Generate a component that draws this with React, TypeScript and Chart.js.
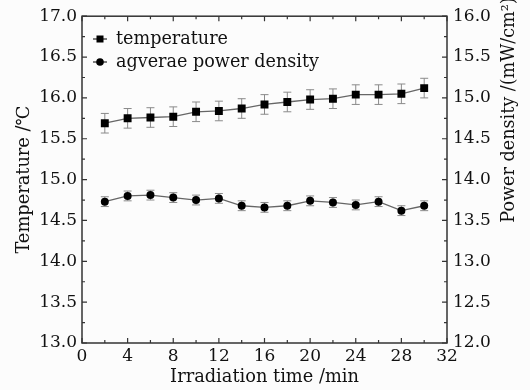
import React, { useEffect, useRef } from "react";
import { Chart, registerables } from "chart.js";

Chart.register(...registerables);

const timeMin = [2, 4, 6, 8, 10, 12, 14, 16, 18, 20, 22, 24, 26, 28, 30];
const temperature = [15.69, 15.75, 15.76, 15.77, 15.83, 15.84, 15.87, 15.92, 15.95, 15.98, 15.99, 16.04, 16.04, 16.05, 16.12];
const temperatureErr = [0.12, 0.12, 0.12, 0.12, 0.12, 0.12, 0.12, 0.12, 0.12, 0.12, 0.12, 0.12, 0.12, 0.12, 0.12];
const powerDensity = [13.73, 13.8, 13.81, 13.78, 13.75, 13.77, 13.68, 13.66, 13.68, 13.74, 13.72, 13.69, 13.73, 13.62, 13.68];
const powerErr = [0.06, 0.06, 0.06, 0.06, 0.06, 0.06, 0.06, 0.06, 0.06, 0.06, 0.06, 0.06, 0.06, 0.06, 0.06];

const legendLabels = ["temperature", "agverae power density"];
const xTitle = "Irradiation time /min";
const yTitle = "Temperature /\u2103";
const y1Title = "Power density /(mW/cm\u00B2)";

const FONT = "'DejaVu Serif', serif";
const TEXT = "#111111";
const AXIS = "#333333";

const errors = [temperatureErr, powerErr];

const framePlugin = {
  id: "frame",
  beforeDraw(chart: any) {
    const ctx = chart.ctx;
    ctx.save();
    ctx.fillStyle = "#fcfcfc";
    ctx.fillRect(0, 0, chart.width, chart.height);
    ctx.restore();
  },
  beforeDatasetsDraw(chart: any) {
    const ctx = chart.ctx;
    ctx.save();
    ctx.strokeStyle = "#8a8a8a";
    ctx.lineWidth = 1;
    chart.data.datasets.forEach((ds: any, i: number) => {
      const ys = chart.scales[ds.yAxisID];
      const xs = chart.scales.x;
      ds.data.forEach((p: any, j: number) => {
        const e = errors[i][j];
        const x = xs.getPixelForValue(p.x);
        const y0 = ys.getPixelForValue(p.y - e);
        const y1 = ys.getPixelForValue(p.y + e);
        ctx.beginPath();
        ctx.moveTo(x, y0);
        ctx.lineTo(x, y1);
        ctx.moveTo(x - 4, y0);
        ctx.lineTo(x + 4, y0);
        ctx.moveTo(x - 4, y1);
        ctx.lineTo(x + 4, y1);
        ctx.stroke();
      });
    });
    ctx.restore();
  },
  afterDraw(chart: any) {
    const ctx = chart.ctx;
    const { left, right, top, bottom } = chart.chartArea;
    const xs = chart.scales.x;
    const ys = chart.scales.y;
    const y1s = chart.scales.y1;
    ctx.save();
    ctx.strokeStyle = AXIS;
    ctx.lineWidth = 1.5;
    ctx.strokeRect(left, top, right - left, bottom - top);
    ctx.lineWidth = 1.2;
    ctx.beginPath();
    for (let v = 0; v <= 32; v += 2) {
      const x = xs.getPixelForValue(v);
      const len = v % 4 === 0 ? 5 : 3;
      ctx.moveTo(x, bottom);
      ctx.lineTo(x, bottom - len);
      ctx.moveTo(x, top);
      ctx.lineTo(x, top + len);
    }
    for (let k = 0; k <= 16; k++) {
      const len = k % 2 === 0 ? 5 : 3;
      const ya = ys.getPixelForValue(13 + k * 0.25);
      ctx.moveTo(left, ya);
      ctx.lineTo(left + len, ya);
      const yb = y1s.getPixelForValue(12 + k * 0.25);
      ctx.moveTo(right, yb);
      ctx.lineTo(right - len, yb);
    }
    ctx.stroke();

    // legend
    const rows = [39, 62];
    ctx.font = `17.6px ${FONT}`;
    ctx.textBaseline = "middle";
    ctx.textAlign = "left";
    rows.forEach((ry, i) => {
      ctx.strokeStyle = "#555";
      ctx.lineWidth = 1.5;
      ctx.beginPath();
      ctx.moveTo(93, ry);
      ctx.lineTo(107, ry);
      ctx.stroke();
      ctx.fillStyle = "#000";
      if (i === 0) {
        ctx.fillRect(96.5, ry - 3.5, 7, 7);
      } else {
        ctx.beginPath();
        ctx.arc(100, ry, 3.8, 0, Math.PI * 2);
        ctx.fill();
      }
      ctx.fillStyle = TEXT;
      ctx.fillText(legendLabels[i], 116, ry);
    });

    // right axis title, reading bottom to top
    ctx.translate(509, 110);
    ctx.rotate(-Math.PI / 2);
    ctx.textAlign = "center";
    ctx.textBaseline = "middle";
    ctx.fillStyle = TEXT;
    ctx.font = `17.6px ${FONT}`;
    ctx.fillText(y1Title, 0, 0);
    ctx.restore();
  },
};

export default function App() {
  const ref = useRef<HTMLCanvasElement>(null);
  useEffect(() => {
    if (!ref.current) return;
    const tickFont = { family: FONT, size: 17 };
    const titleFont = { family: FONT, size: 17.8 };
    const chart = new Chart(ref.current, {
      type: "line",
      data: {
        datasets: [
          {
            label: legendLabels[0],
            data: timeMin.map((t, i) => ({ x: t, y: temperature[i] })),
            yAxisID: "y",
            borderColor: "#666",
            borderWidth: 1.3,
            pointStyle: "rect",
            pointRadius: 5.6,
            pointBackgroundColor: "#000",
            pointBorderColor: "#000",
            pointBorderWidth: 0,
          },
          {
            label: legendLabels[1],
            data: timeMin.map((t, i) => ({ x: t, y: powerDensity[i] })),
            yAxisID: "y1",
            borderColor: "#666",
            borderWidth: 1.3,
            pointStyle: "circle",
            pointRadius: 4,
            pointBackgroundColor: "#000",
            pointBorderColor: "#000",
            pointBorderWidth: 0,
          },
        ],
      },
      options: {
        responsive: false,
        animation: false,
        devicePixelRatio: 1,
        layout: { padding: { top: 16, left: 0, right: 0, bottom: 0 } },
        plugins: { legend: { display: false }, tooltip: { enabled: false } },
        scales: {
          x: {
            type: "linear",
            min: 0,
            max: 32,
            grid: { display: false, drawTicks: false },
            border: { display: false },
            ticks: { stepSize: 4, font: tickFont, color: TEXT, padding: 3, maxRotation: 0 },
            title: { display: true, text: xTitle, font: titleFont, color: TEXT, padding: { top: 0, bottom: 2 } },
            afterFit: (s: any) => { s.height = 47; },
          },
          y: {
            type: "linear",
            position: "left",
            min: 13,
            max: 17,
            grid: { display: false, drawTicks: false },
            border: { display: false },
            ticks: { stepSize: 0.5, font: tickFont, color: TEXT, padding: 5, callback: (v: any) => Number(v).toFixed(1) },
            title: { display: true, text: yTitle, font: titleFont, color: TEXT, padding: { top: 14, bottom: 0 } },
            afterFit: (s: any) => { s.width = 82; },
          },
          y1: {
            type: "linear",
            position: "right",
            min: 12,
            max: 16,
            grid: { display: false, drawTicks: false },
            border: { display: false },
            ticks: { stepSize: 0.5, font: tickFont, color: TEXT, padding: 6, callback: (v: any) => Number(v).toFixed(1) },
            afterFit: (s: any) => { s.width = 83; },
          },
        },
      },
      plugins: [framePlugin],
    } as any);
    return () => chart.destroy();
  }, []);
  return (
    <div style={{ position: "fixed", left: 0, top: 0, width: 530, height: 390, background: "#fcfcfc" }}>
      <canvas ref={ref} width={530} height={390} style={{ width: 530, height: 390 }} />
    </div>
  );
}
